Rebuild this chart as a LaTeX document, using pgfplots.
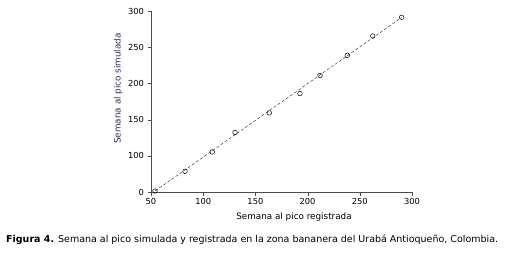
\documentclass[border=0pt]{standalone}
\usepackage{pgfplots}
\pgfplotsset{compat=1.18}
\usepackage{fontspec}
\setmainfont{DejaVu Sans}
\definecolor{labblue}{RGB}{45,45,95}
\begin{document}
\begin{tikzpicture}
\path[use as bounding box] (0,0) rectangle (525pt,-255pt);
\begin{axis}[
  at={(151pt,-192pt)}, anchor=south west,
  scale only axis, width=261pt, height=181pt,
  xmin=50, xmax=300, ymin=50, ymax=300,
  axis x line=bottom, axis y line=left,
  axis line style={-, black!70},
  tick align=outside, major tick length=3.5pt,
  tick style={black!70},
  xtick={50,100,150,200,250,300},
  ytick={50,100,150,200,250,300},
  yticklabels={0,100,150,200,250,300},
  /pgf/number format/assume math mode=true,
  ticklabel style={font=\fontsize{8.3}{9}\selectfont},
  xtick={50,100,150,200,250,300},
  xticklabel style={yshift=1pt},
  xlabel={Semana al pico registrada},
  ylabel={Semana al pico simulada},
  xlabel style={font=\fontsize{8.8}{10}\selectfont, at={(axis description cs:0.548,-0.14)}, anchor=center},
  ylabel style={font=\fontsize{8.8}{10}\selectfont, text=labblue, at={(axis description cs:-0.126,0.572)}, anchor=center},
  clip=false,
]
\addplot[densely dashed, black!75, line width=0.5pt] coordinates {(54,51.5) (290,291)};
\addplot[only marks, mark=o, mark size=2.3pt, mark options={line width=0.5pt, black}] coordinates {
(53.8,51.4) (82.6,78.6) (108.7,105.3) (130.5,132.2) (163.3,159.3)
(192.7,186.1) (211.9,211.0) (238.0,238.7) (262.4,265.4) (290.1,291.3)
};
\end{axis}
\node[anchor=west, inner sep=0pt, font=\fontsize{9.5}{11}\selectfont] at (6pt,-240pt) {\textbf{Figura 4.} Semana al pico simulada y registrada en la zona bananera del Urabá Antioqueño, Colombia.};
\end{tikzpicture}
\end{document}
